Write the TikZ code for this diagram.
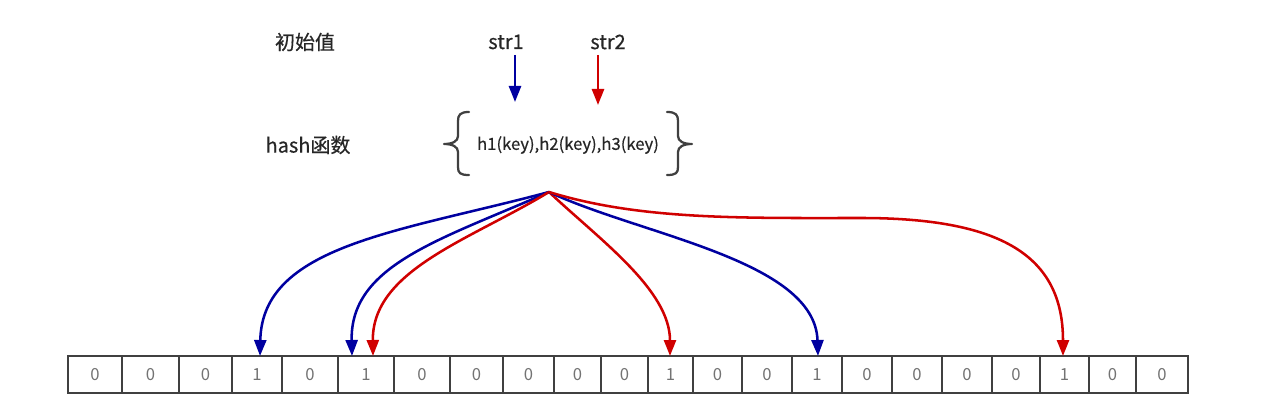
\documentclass[tikz,border=0pt]{standalone}
\usepackage{fontspec}
\setmainfont{Noto Sans CJK SC}
\newfontfamily\lblfont{Noto Sans CJK SC}[FakeBold=0.5]
\usetikzlibrary{arrows.meta}
\definecolor{dblue}{HTML}{0000A0}
\definecolor{dred}{HTML}{D00000}
\begin{document}
\begin{tikzpicture}[x=0.75pt,y=-0.75pt,
  lbl/.style={font=\lblfont\fontsize{15}{18}\selectfont, text=black!85, inner sep=0},
  fn/.style={font=\lblfont\fontsize{12.5}{15}\selectfont, text=black!85, inner sep=0},
  cell/.style={draw=black!75, line width=1.7pt, inner sep=0, minimum height=27.75pt, font=\fontsize{12.5}{14}\selectfont, text=black!55},
  bl/.style={draw=dblue, line width=1.9pt, -{Triangle[length=12pt,width=9pt]}, fill=none},
  rd/.style={draw=dred, line width=1.9pt, -{Triangle[length=12pt,width=9pt]}, fill=none},
  bracestyle/.style={draw=black!75, line width=1.7pt, line cap=round, line join=round}]
\useasboundingbox (0,0) rectangle (1267,406);
% labels
\node[lbl] (init) at (305,42) {初始值};
\node[lbl] (s1) at (506,42) {str1};
\node[lbl] (s2) at (608,42) {str2};
\node[lbl] (hash) at (308,145) {hash函数};
\node[fn] (fun) at (568,145) {h1(key),h2(key),h3(key)};
% top arrows
\coordinate (a1s) at (515,55);
\coordinate (a1e) at (515,102);
\coordinate (a2s) at (598,55);
\coordinate (a2e) at (598,105);
\draw[bl] (a1s) -- (a1e);
\draw[rd] (a2s) -- (a2e);
% braces
\draw[bracestyle] (469,112) .. controls (460,112) and (458,115) .. (458,121) -- (458,136)
  .. controls (458,141) and (453,144) .. (444,144) .. controls (453,144) and (458,147) .. (458,152)
  -- (458,167) .. controls (458,173) and (460,175) .. (469,175);
\draw[bracestyle] (667,112) .. controls (676,112) and (678,115) .. (678,121) -- (678,136)
  .. controls (678,141) and (683,144) .. (692,144) .. controls (683,144) and (678,147) .. (678,152)
  -- (678,167) .. controls (678,173) and (676,175) .. (667,175);
% array
\foreach \a/\b/\v [count=\i] in {68/122/0,122/179/0,179/232/0,232/282/1,282/338/0,338/394/1,394/450/0,450/503/0,503/554/0,554/601/0,601/648/0,648/693/1,693/742/0,742/792/0,792/842/1,842/892/0,892/942/0,942/992/0,992/1040/0,1040/1089/1,1089/1136/0,1136/1188/0}{
  \node[cell, minimum width={(\b-\a)*0.75pt}] (c\i) at ({(\a+\b)/2},374.5) {\v};
}
% curves
\coordinate (src) at (549,192);
\coordinate (t1) at (260,356);
\coordinate (t2) at (352,356);
\coordinate (t3) at (373,356);
\coordinate (t4) at (670,356);
\coordinate (t5) at (818,356);
\coordinate (t6) at (1063,356);
\draw[bl] (src) .. controls (400,232) and (262,245) .. (t1);
\draw[bl] (src) .. controls (440,240) and (350,265) .. (t2);
\draw[rd] (src) .. controls (470,240) and (372,270) .. (t3);
\draw[rd] (src) .. controls (600,240) and (670,290) .. (t4);
\draw[bl] (src) .. controls (640,235) and (815,260) .. (t5);
\draw[rd] (src) .. controls (640,220) and (740,218) .. (861,218) .. controls (1000,218) and (1063,255) .. (t6);
\end{tikzpicture}
\end{document}
